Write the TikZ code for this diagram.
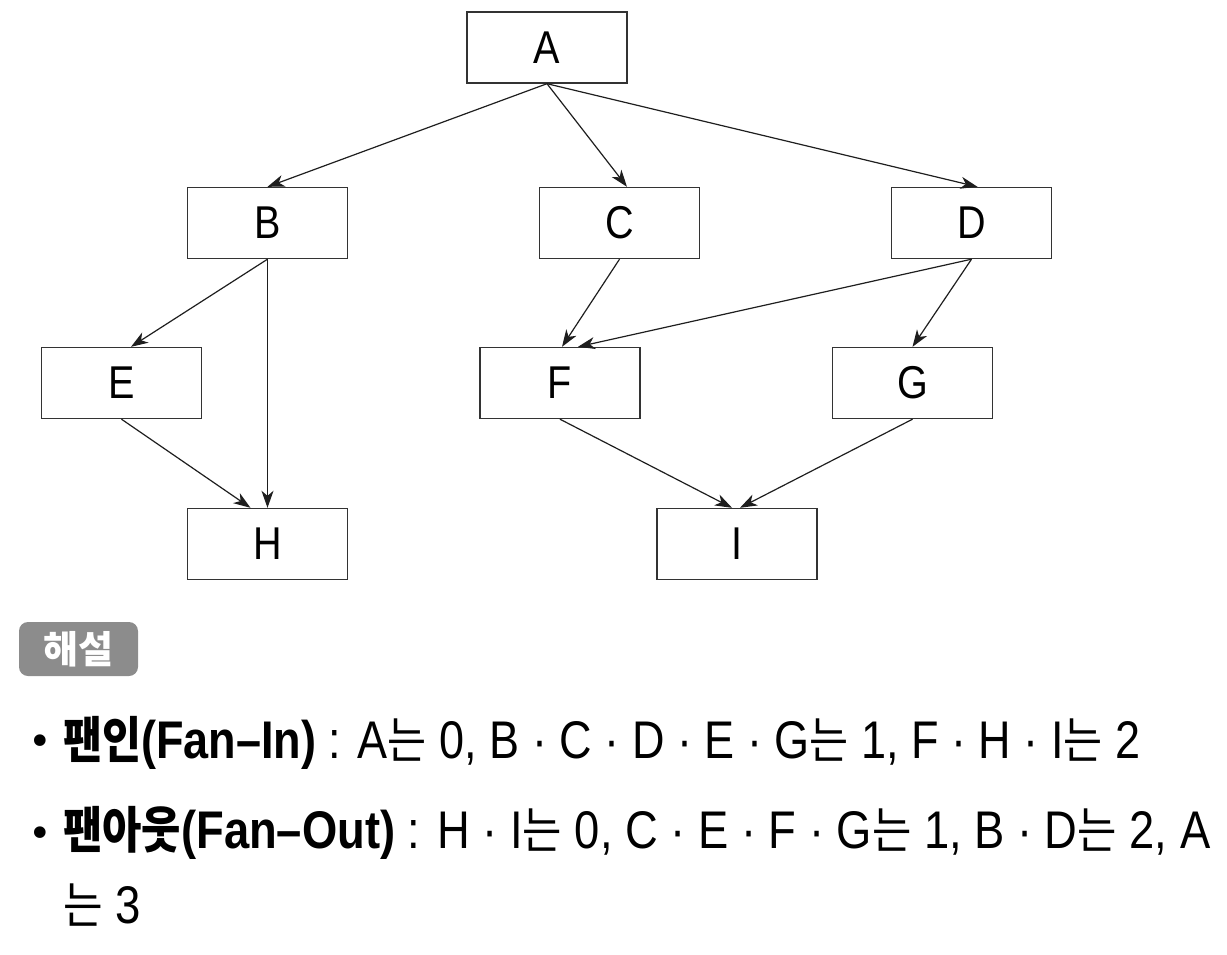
\documentclass[tikz,border=0pt]{standalone}
\usepackage{fontspec}
\usepackage{graphicx}
\setmainfont{Liberation Sans}
\newfontfamily\latfont[FakeStretch=0.86]{Liberation Sans}
\newfontfamily\krfont[FakeStretch=0.86]{Noto Sans CJK KR}
\newfontfamily\badgefont{Noto Sans CJK KR}
\newfontfamily\symfont{DejaVu Sans}
\newcommand\hg[1]{{\krfont\fontsize{50}{50}\selectfont #1}}
\usetikzlibrary{arrows.meta}
\definecolor{boxline}{HTML}{333333}
\definecolor{arrowline}{HTML}{1E1E1E}
\definecolor{badgegray}{HTML}{8C8C8C}
\tikzset{
  box/.style={draw=boxline, line width=1.4pt, minimum width=160pt, minimum height=71pt,
    inner sep=0pt, font=\latfont\fontsize{46}{46}\selectfont},
  link/.style={draw=arrowline, line width=1.2pt, -{Stealth[length=17pt,width=12pt,inset=5pt]}},
  badge/.style={fill=badgegray, rounded corners=9pt, minimum width=119pt, minimum height=54pt,
    inner sep=0pt, text=white, font=\badgefont\bfseries\fontsize{38}{38}\selectfont},
  textline/.style={anchor=base west, inner sep=0pt, font=\latfont\fontsize{53}{53}\selectfont},
  bullet/.style={anchor=center, inner sep=0pt, font=\symfont\fontsize{40}{40}\selectfont},
}
\begin{document}
\begin{tikzpicture}[x=1pt,y=-1pt]
\path[use as bounding box] (0,0) rectangle (1227,954);
% boxes
\node[box] (A) at (547,47.5) {A};
\node[box] (B) at (267.5,223) {B};
\node[box] (C) at (619.5,223) {C};
\node[box] (D) at (971.5,223) {D};
\node[box] (E) at (121.5,383) {E};
\node[box] (F) at (560,383) {F};
\node[box] (G) at (912.5,383) {G};
\node[box] (H) at (267.5,544) {H};
\node[box] (I) at (737,544) {I};
% connectors
\draw[link] (A.south) -- (B.north);
\draw[link] (A.south) -- ([xshift=7.5pt]C.north);
\draw[link] (A.south) -- ([xshift=6pt]D.north);
\draw[link] (B.south) -- ([xshift=9.5pt]E.north);
\draw[link] (B.south) -- (H.north);
\draw[link] (E.south) -- ([xshift=-17pt]H.north);
\draw[link] (C.south) -- ([xshift=2pt]F.north);
\draw[link] (D.south) -- ([xshift=18pt]F.north);
\draw[link] (D.south) -- (G.north);
\draw[link] (F.south) -- ([xshift=-5pt]I.north);
\draw[link] (G.south) -- ([xshift=3pt]I.north);
% explanation
\node[badge] (hs) at (78.5,649) {해설};
\node[bullet] (b1) at (40,745) {•};
\node[textline] (l1) at (63,758) {\resizebox{1077pt}{\height}{{\bfseries\hg{\bfseries 팬인}(Fan–In)} : A\hg{는} 0, B · C · D · E · G\hg{는} 1, F · H · I\hg{는} 2}};
\node[bullet] (b2) at (40,837) {•};
\node[textline] (l2) at (63,848) {\resizebox{1147pt}{\height}{{\bfseries\hg{\bfseries 팬아웃}(Fan–Out)} : H · I\hg{는} 0, C · E · F · G\hg{는} 1, B · D\hg{는} 2, A}};
\node[textline] (l3) at (63,923) {\hg{는} 3};
\end{tikzpicture}
\end{document}
